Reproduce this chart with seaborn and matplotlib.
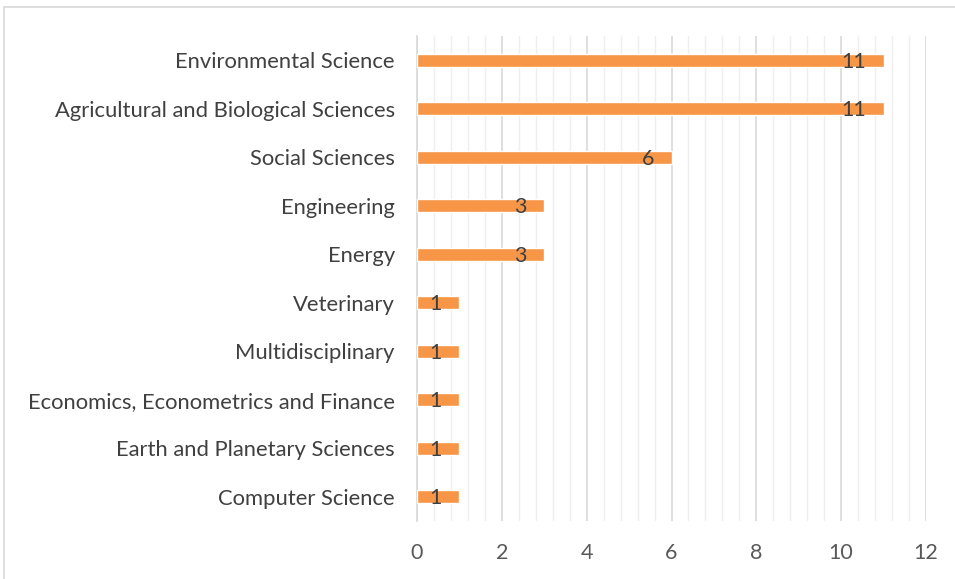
import matplotlib
matplotlib.use("Agg")
import matplotlib.pyplot as plt
import seaborn as sns
import pandas as pd
import numpy as np
from matplotlib.patches import Rectangle
from matplotlib.ticker import MultipleLocator, FixedLocator

categories = ["Environmental Science", "Agricultural and Biological Sciences", "Social Sciences",
              "Engineering", "Energy", "Veterinary", "Multidisciplinary",
              "Economics, Econometrics and Finance", "Earth and Planetary Sciences", "Computer Science"]
values = [11, 11, 6, 3, 3, 1, 1, 1, 1, 1]
x_ticks = [0, 2, 4, 6, 8, 10, 12]

df = pd.DataFrame({"category": categories, "value": values})

sns.set_style("white")
plt.rcParams['font.family'] = ['Lato', 'DejaVu Sans']

fig = plt.figure(figsize=(9.55, 5.79), dpi=100)
ax = fig.add_axes([417/955, 1-521/579, (926-417)/955, (521-36)/579])

sns.barplot(data=df, x="value", y="category", orient="h", color="#F79646",
            saturation=1, width=0.27, ax=ax, zorder=3)

ax.set_xlim(0, 12)
ax.set_ylim(len(categories)-0.5, -0.5)
ax.xaxis.set_major_locator(FixedLocator(x_ticks))
ax.xaxis.set_minor_locator(MultipleLocator(0.4))
ax.grid(axis="x", which="major", color="#d9d9d9", linewidth=1.2, zorder=0)
ax.grid(axis="x", which="minor", color="#efefef", linewidth=1.0, zorder=0)
ax.set_axisbelow(True)

for s in ["top", "right", "bottom"]:
    ax.spines[s].set_visible(False)
ax.spines["left"].set_color("#d9d9d9")
ax.spines["left"].set_linewidth(1.2)

ax.set_xlabel("")
ax.set_ylabel("")
ax.tick_params(axis="x", which="both", length=0, labelsize=15.5, labelcolor="#595959", pad=16)
ax.tick_params(axis="y", which="major", length=0, labelsize=15.8, labelcolor="#404040", pad=16)
ax.yaxis.set_minor_locator(FixedLocator(np.arange(-0.5, len(categories), 1.0)))
ax.tick_params(axis="y", which="minor", length=5, color="#d9d9d9", width=1.2)

for i, v in enumerate(values):
    ax.annotate(str(v), xy=(v, i), xytext=(-12.5, -1), textcoords="offset points",
                ha="right", va="center", fontsize=15.5, color="#404040", zorder=4)

fig.patches.append(Rectangle((4/955, -0.05), 1.0, 1-7/579+0.05, transform=fig.transFigure,
                             fill=False, edgecolor="#d9d9d9", linewidth=1.2))

fig.savefig("out.png", dpi=100)
